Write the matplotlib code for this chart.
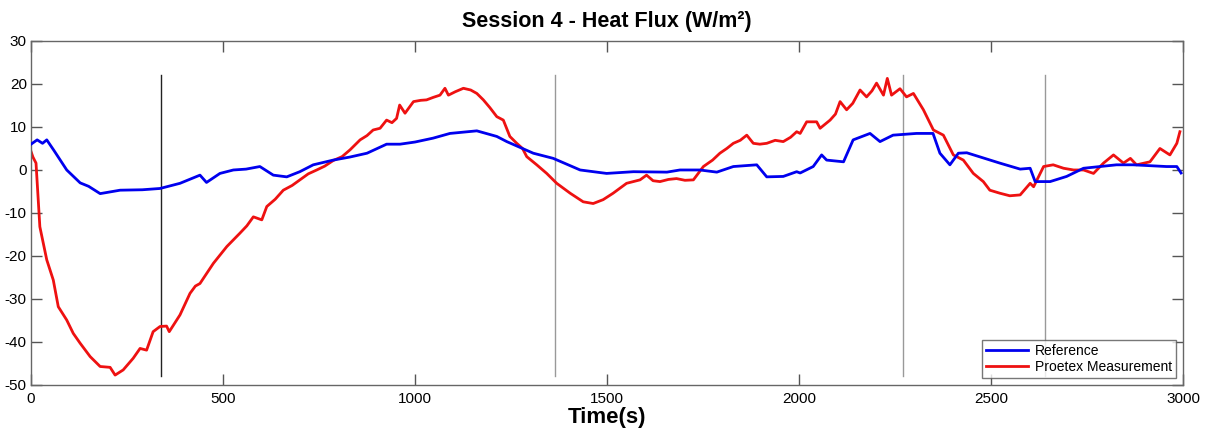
import numpy as np
import matplotlib
matplotlib.use("Agg")
import matplotlib.pyplot as plt

plt.rcParams['font.family'] = ['Liberation Sans', 'DejaVu Sans']
plt.rcParams['axes.unicode_minus'] = False

# Reference series (time in s, heat flux W/m²)
ref_t = [0, 16, 30, 41, 60, 93, 128, 150, 180, 232, 290, 336, 388, 440, 457, 492, 527,
         560, 596, 631, 666, 700, 735, 787, 830, 875, 926, 961, 1000, 1047, 1091, 1161,
         1213, 1239, 1308, 1360, 1430, 1499, 1569, 1656, 1690, 1742, 1786, 1829, 1890,
         1916, 1959, 1994, 2003, 2037, 2059, 2072, 2116, 2141, 2185, 2211, 2245, 2306,
         2349, 2367, 2393, 2415, 2437, 2523, 2576, 2602, 2615, 2654, 2697, 2741, 2827,
         2870, 2957, 2984, 2995]
ref_v = [6.0, 7.0, 6.2, 7.0, 4.5, 0.0, -3.0, -3.8, -5.5, -4.7, -4.6, -4.3, -3.1, -1.2,
         -2.9, -0.8, 0.0, 0.2, 0.8, -1.2, -1.6, -0.4, 1.2, 2.3, 3.0, 3.9, 6.0, 6.0, 6.5,
         7.4, 8.5, 9.1, 7.8, 6.6, 3.9, 2.7, 0.0, -0.8, -0.4, -0.5, 0.0, 0.0, -0.5, 0.8,
         1.2, -1.6, -1.5, -0.4, -0.7, 0.8, 3.5, 2.3, 1.9, 7.0, 8.5, 6.6, 8.1, 8.5, 8.5,
         3.9, 1.2, 3.9, 4.0, 1.6, 0.2, 0.4, -2.7, -2.7, -1.5, 0.4, 1.2, 1.2, 0.8, 0.8,
         -0.7]

# Proetex measurement series
pro_t = [0, 5, 13, 23, 41, 58, 71, 93, 110, 128, 154, 180, 206, 219, 240, 266, 284,
         301, 318, 336, 353, 360, 388, 414, 428, 440, 475, 510, 544, 562, 579, 601, 614,
         636, 657, 680, 700, 722, 744, 765, 787, 810, 831, 857, 875, 891, 909, 926, 940,
         952, 960, 974, 996, 1015, 1030, 1048, 1065, 1078, 1087, 1105, 1126, 1145, 1161,
         1178, 1195, 1213, 1230, 1247, 1265, 1280, 1291, 1317, 1343, 1369, 1404, 1438,
         1464, 1490, 1516, 1551, 1586, 1603, 1620, 1638, 1660, 1681, 1703, 1725, 1751,
         1775, 1794, 1812, 1829, 1847, 1864, 1881, 1898, 1916, 1938, 1959, 1978, 1994,
         2003, 2020, 2046, 2055, 2081, 2095, 2107, 2124, 2140, 2159, 2176, 2190, 2202,
         2220, 2230, 2241, 2263, 2280, 2298, 2324, 2350, 2376, 2402, 2428, 2454, 2480,
         2497, 2523, 2549, 2576, 2602, 2611, 2637, 2662, 2689, 2715, 2741, 2767, 2793,
         2819, 2845, 2863, 2879, 2914, 2940, 2966, 2984, 2992]
pro_v = [4.3, 3.0, 1.6, -13.2, -20.9, -25.6, -31.8, -34.9, -38.0, -40.3, -43.4, -45.7,
         -45.9, -47.7, -46.5, -43.8, -41.5, -41.9, -37.6, -36.4, -36.3, -37.6, -33.7,
         -28.7, -27.0, -26.4, -21.7, -17.8, -14.7, -13.0, -10.9, -11.6, -8.5, -6.8,
         -4.7, -3.6, -2.3, -0.9, 0.0, 0.9, 2.2, 3.1, 4.7, 7.0, 8.0, 9.3, 9.7, 11.6, 11.0,
         12.0, 15.1, 13.2, 15.9, 16.2, 16.3, 16.9, 17.4, 19.0, 17.4, 18.2, 19.0, 18.6,
         17.8, 16.3, 14.5, 12.4, 11.6, 7.8, 6.2, 5.0, 3.1, 1.2, -0.8, -3.1, -5.4, -7.4,
         -7.8, -6.9, -5.4, -3.1, -2.3, -1.2, -2.5, -2.7, -2.2, -2.0, -2.4, -2.3, 0.8,
         2.3, 3.9, 5.0, 6.2, 6.9, 8.1, 6.2, 6.0, 6.2, 6.9, 6.6, 7.6, 8.9,
         8.5, 11.2, 11.2, 9.7, 11.6, 13.0, 15.9, 14.0, 15.5, 18.6, 17.0, 18.4, 20.2,
         17.4, 21.3, 17.4, 18.9, 17.0, 17.8, 14.0, 9.3, 8.1, 3.5, 2.3, -0.8, -2.7, -4.7,
         -5.4, -6.0, -5.8, -3.1, -3.9, 0.8, 1.2, 0.4, 0.0, 0.0, -0.8, 1.6, 3.5, 1.6, 2.7,
         1.2, 1.9, 5.0, 3.5, 6.2, 8.9]

# Vertical markers
marker_t = [338, 1365, 2271, 2641]
marker_colors = ["#222222", "#999999", "#999999", "#999999"]
marker_ymin, marker_ymax = -48, 22

xticks = [0, 500, 1000, 1500, 2000, 2500, 3000]
yticks = [-50, -40, -30, -20, -10, 0, 10, 20, 30]

fig = plt.figure(figsize=(12.07, 4.30), dpi=100)
ax = fig.add_axes([0.0257, 0.1047, 0.9544, 0.80])

for t, c in zip(marker_t, marker_colors):
    ax.plot([t, t], [marker_ymin, marker_ymax], color=c, lw=1.0, zorder=1)

ax.plot(ref_t, ref_v, color="#0000ee", lw=2.0, label="Reference", zorder=3)
ax.plot(pro_t, pro_v, color="#ee1111", lw=2.0, label="Proetex Measurement", zorder=2)

ax.set_xlim(0, 3000)
ax.set_ylim(-50, 30)
ax.set_xticks(xticks)
ax.set_yticks(yticks)
ax.tick_params(direction="in", length=8, width=1, color="#555555",
               top=True, right=True, labelsize=11, pad=3)
ax.tick_params(axis="x", pad=5)
for s in ax.spines.values():
    s.set_color("#666666")
    s.set_linewidth(1.0)

ax.set_title("Session 4 - Heat Flux (W/m²)", fontsize=15.5, fontweight="bold", pad=10)
ax.set_xlabel("Time(s)", fontsize=16, fontweight="bold", labelpad=1)

leg = ax.legend(loc="lower right", fontsize=10, frameon=True, fancybox=False,
                borderpad=0.3, handlelength=3.0, handletextpad=0.5, labelspacing=0.15,
                borderaxespad=0, bbox_to_anchor=(0.994, 0.02))
leg.get_frame().set_edgecolor("#555555")
leg.get_frame().set_linewidth(1.0)

fig.savefig("out.png", dpi=100)
